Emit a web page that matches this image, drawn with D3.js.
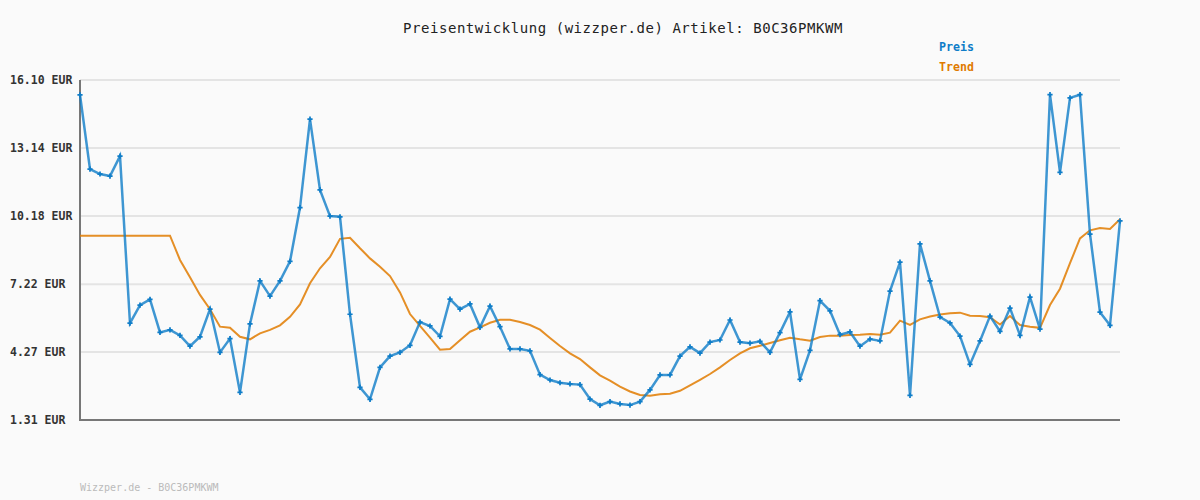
<!DOCTYPE html>
<html>
  <head>
    <title>Preisentwicklung</title>
    <script src="https://d3js.org/d3.v7.min.js"></script>
    <style>
      body { margin: 0; background-color: #fafafa; }
      text { font-family: 'DejaVu Sans Mono', monospace; }
    </style>
  </head>
  <body>
    <svg id="canvas" width="1200" height="500"></svg>
    <script>
      const titleText = 'Preisentwicklung (wizzper.de) Artikel: B0C36PMKWM'
      const footerText = 'Wizzper.de - B0C36PMKWM'
      const tickValues = [1.31, 4.27, 7.22, 10.18, 13.14, 16.10]
      const tickLabels = ['1.31 EUR', '4.27 EUR', '7.22 EUR', '10.18 EUR', '13.14 EUR', '16.10 EUR']

      // one value per day
      const preis = [
        15.45, 12.22, 12.01, 11.92, 12.79, 5.52, 6.31, 6.56, 5.12, 5.23,
        4.99, 4.52, 4.93, 6.13, 4.25, 4.85, 2.51, 5.49, 7.36, 6.70,
        7.36, 8.21, 10.55, 14.40, 11.32, 10.18, 10.15, 5.91, 2.73, 2.21,
        3.60, 4.09, 4.25, 4.56, 5.57, 5.40, 4.95, 6.57, 6.13, 6.36,
        5.34, 6.26, 5.37, 4.40, 4.40, 4.32, 3.28, 3.05, 2.93, 2.88,
        2.85, 2.22, 1.95, 2.11, 2.01, 1.96, 2.11, 2.62, 3.27, 3.27,
        4.09, 4.49, 4.22, 4.70, 4.79, 5.66, 4.70, 4.65, 4.73, 4.25,
        5.11, 6.01, 3.08, 4.34, 6.50, 6.06, 5.02, 5.14, 4.52, 4.83,
        4.75, 6.92, 8.18, 2.38, 8.97, 7.36, 5.79, 5.53, 4.96, 3.73,
        4.75, 5.83, 5.17, 6.18, 4.99, 6.66, 5.26, 15.46, 12.08, 15.32,
        15.46, 9.40, 6.00, 5.43, 9.97
      ]
      const trend = [
        9.33, 9.33, 9.33, 9.33, 9.33, 9.33, 9.33, 9.33, 9.33, 9.33,
        8.27, 7.52, 6.75, 6.13, 5.37, 5.32, 4.93, 4.82, 5.08, 5.23,
        5.43, 5.80, 6.34, 7.26, 7.91, 8.40, 9.19, 9.24, 8.78, 8.34,
        7.98, 7.57, 6.86, 5.92, 5.40, 4.89, 4.37, 4.40, 4.78, 5.15,
        5.34, 5.54, 5.67, 5.67, 5.57, 5.44, 5.24, 4.88, 4.53, 4.21,
        3.96, 3.60, 3.25, 3.02, 2.76, 2.55, 2.40, 2.36, 2.43, 2.45,
        2.58, 2.82, 3.06, 3.31, 3.60, 3.92, 4.21, 4.43, 4.54, 4.66,
        4.78, 4.89, 4.82, 4.76, 4.92, 4.98, 4.98, 5.01, 5.02, 5.05,
        5.02, 5.11, 5.63, 5.45, 5.69, 5.81, 5.90, 5.95, 5.98, 5.85,
        5.83, 5.78, 5.46, 5.83, 5.44, 5.37, 5.32, 6.31, 7.02, 8.13,
        9.21, 9.56, 9.66, 9.62, 10.04
      ]

      const blue = '#0f7dc8'
      const orange = '#e07b00'

      let svg = d3.select('#canvas')
      let plotLeft = 80, plotRight = 1120, plotTop = 80, plotBottom = 420

      let x = d3.scaleLinear().domain([0, preis.length - 1]).range([plotLeft, plotRight])
      let y = d3.scaleLinear().domain([1.31, 16.10]).range([plotBottom, plotTop])

      // grid
      svg.append('g').selectAll('line').data(tickValues)
        .enter().append('line')
          .attr('x1', plotLeft).attr('x2', plotRight)
          .attr('y1', d => y(d)).attr('y2', d => y(d))
          .attr('stroke', '#e4e4e4')
          .attr('stroke-width', 2)

      // tick labels
      svg.append('g').selectAll('text').data(tickValues)
        .enter().append('text')
          .attr('x', 10)
          .attr('y', d => y(d) + 4)
          .attr('font-size', 11.5)
          .attr('font-weight', 'bold')
          .attr('fill', '#333')
          .text((d, i) => tickLabels[i])

      // axes
      svg.append('line')
        .attr('x1', plotLeft).attr('x2', plotLeft).attr('y1', plotTop).attr('y2', plotBottom + 1)
        .attr('stroke', '#777').attr('stroke-width', 2)
      svg.append('line')
        .attr('x1', plotLeft - 1).attr('x2', plotRight).attr('y1', plotBottom).attr('y2', plotBottom)
        .attr('stroke', '#777').attr('stroke-width', 2)

      let line = d3.line().x((d, i) => x(i)).y(d => y(d))

      svg.append('path').datum(trend)
        .attr('d', line)
        .attr('fill', 'none')
        .attr('stroke', orange)
        .attr('stroke-width', 2)
        .attr('stroke-opacity', 0.85)

      svg.append('path').datum(preis)
        .attr('d', line)
        .attr('fill', 'none')
        .attr('stroke', blue)
        .attr('stroke-width', 2.5)
        .attr('stroke-opacity', 0.8)

      svg.append('g').selectAll('path').data(preis)
        .enter().append('path')
          .attr('d', d3.symbol().type(d3.symbolCross).size(15))
          .attr('transform', (d, i) => `translate(${x(i)}, ${y(d)})`)
          .attr('fill', blue)

      // title
      svg.append('text')
        .attr('x', 623).attr('y', 33)
        .attr('text-anchor', 'middle')
        .attr('font-size', 14)
        .attr('letter-spacing', 0.55)
        .attr('fill', '#222')
        .text(titleText)

      // legend
      svg.append('text')
        .attr('x', 939).attr('y', 51)
        .attr('font-size', 11.6).attr('font-weight', 'bold')
        .attr('fill', blue).text('Preis')
      svg.append('text')
        .attr('x', 939).attr('y', 71)
        .attr('font-size', 11.6).attr('font-weight', 'bold')
        .attr('fill', orange).text('Trend')

      // footer
      svg.append('text')
        .attr('x', 80).attr('y', 491)
        .attr('font-size', 10)
        .attr('fill', '#bbb')
        .text(footerText)
    </script>
  </body>
</html>
